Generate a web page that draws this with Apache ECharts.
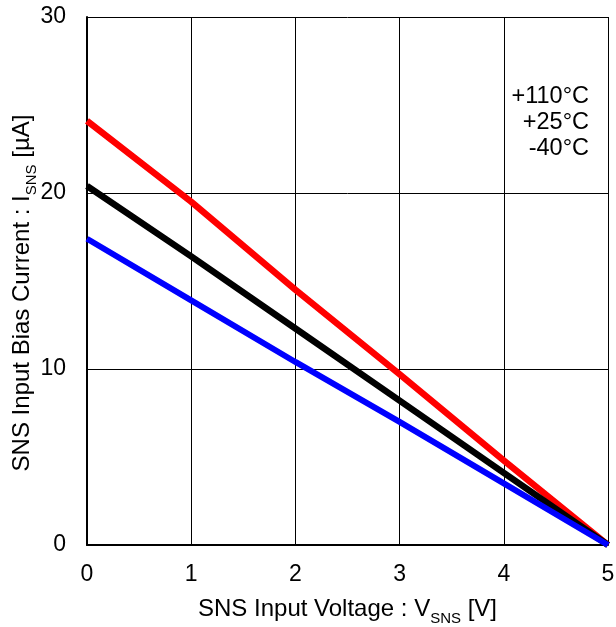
<!DOCTYPE html>
<html>
<head>
<meta charset="utf-8">
<script src="https://cdn.jsdelivr.net/npm/echarts@6/dist/echarts.min.js"></script>
<style>html,body{margin:0;padding:0;background:#fff}#container{width:616px;height:627px}</style>
</head>
<body>
<div id="container"></div>
<script>
// SNS input bias current vs voltage
var voltage = [0, 1, 2, 3, 4, 5];
var i110 = [24.1, 19.5, 14.5, 9.7, 4.8, 0];
var i25 = [20.4, 16.4, 12.3, 8.2, 4.1, 0];
var im40 = [17.4, 13.9, 10.4, 7.0, 3.5, 0];
var legendLabels = ['+110°C', '+25°C', '-40°C'];

function pairs(ys) {
    return voltage.map(function (x, i) { return [x, ys[i]]; });
}

var font = 'Liberation Sans, Arial, sans-serif';
var richName = {
    n: { fontSize: 24, color: '#000', fontFamily: font, lineHeight: 28, verticalAlign: 'bottom' },
    s: { fontSize: 15, color: '#000', fontFamily: font, lineHeight: 28, verticalAlign: 'bottom', padding: [0, 0, -5, 0] }
};
var myChart = echarts.init(document.getElementById('container'));
var option = {
    animation: false,
    textStyle: { fontFamily: font },
    grid: { left: 87, right: 8, top: 17, bottom: 82, outerBoundsMode: 'none', containLabel: false },
    xAxis: {
        type: 'value', min: 0, max: 5, interval: 1,
        axisLine: { lineStyle: { color: '#000', width: 2 } },
        axisTick: { show: false },
        splitLine: { lineStyle: { color: '#000', width: 1 } },
        axisLabel: { color: '#000', fontSize: 23, margin: 18, fontFamily: font },
        name: '{n|SNS Input Voltage : V}{s|SNS}{n| [V]}',
        nameLocation: 'middle', nameGap: 48, nameMoveOverlap: false,
        nameTextStyle: { rich: richName }
    },
    yAxis: {
        type: 'value', min: 0, max: 30, interval: 10,
        axisLine: { show: true, lineStyle: { color: '#000', width: 2 } },
        axisTick: { show: false },
        splitLine: { lineStyle: { color: '#000', width: 1 } },
        axisLabel: { color: '#000', fontSize: 23, margin: 21, fontFamily: font },
        name: '{n|SNS Input Bias Current : I}{s|SNS}{n| [µA]}',
        nameLocation: 'middle', nameGap: 53, nameMoveOverlap: false,
        nameTextStyle: { rich: richName, padding: [0, 24, 0, 0] }
    },
    graphic: legendLabels.map(function (t, i) {
        return {
            type: 'text', right: 27, top: 85 + i * 26,
            style: { text: t, fill: '#000', font: '23.5px ' + font, textAlign: 'right' }
        };
    }),
    series: [
        { name: '+110°C', type: 'line', data: pairs(i110), symbol: 'none', lineStyle: { color: '#ff0000', width: 6.5 } },
        { name: '+25°C', type: 'line', data: pairs(i25), symbol: 'none', lineStyle: { color: '#000000', width: 6.5 } },
        { name: '-40°C', type: 'line', data: pairs(im40), symbol: 'none', lineStyle: { color: '#0000ff', width: 6 } }
    ]
};
myChart.setOption(option);
</script>
</body>
</html>
